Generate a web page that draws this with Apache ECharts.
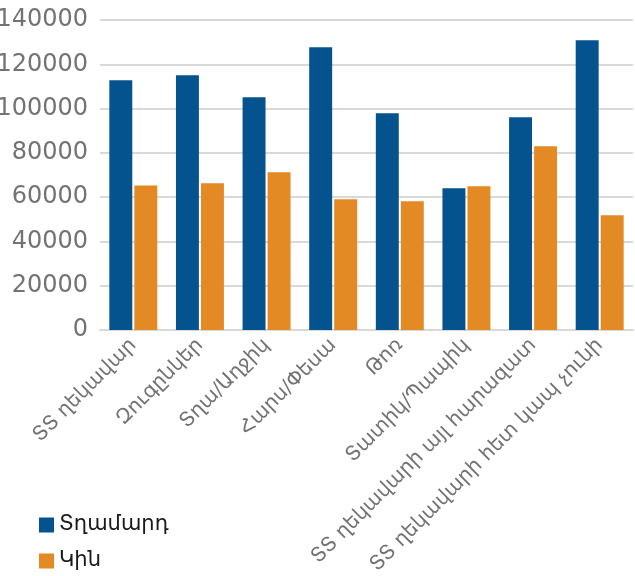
<!DOCTYPE html>
<html>
<head>
	<meta charset="utf-8">
	<title>Bar chart</title>
	<script src="https://cdn.jsdelivr.net/npm/echarts@6/dist/echarts.min.js"></script>
	<style>
		html, body { margin: 0; padding: 0; background: #fff; }
		#main { width: 635px; height: 576px; }
	</style>
</head>
<body>
<div id="main"></div>
<script>
	// categories and values
	var categories = ['ՏՏ ղեկավար', 'Զուգընկեր', 'Տղա/Աղջիկ', 'Հարս/Փեսա', 'Թոռ',
		'Տատիկ/Պապիկ', 'ՏՏ ղեկավարի այլ հարազատ', 'ՏՏ ղեկավարի հետ կապ չունի'];
	var seriesNames = ['Տղամարդ', 'Կին'];
	var men = [112800, 115000, 105100, 127700, 97900, 64000, 96100, 130800];
	var women = [65300, 66300, 71200, 59000, 58100, 64900, 83000, 51800];

	var font = '"DejaVu Sans", sans-serif';
	var colors = ['#04538f', '#e38a25'];
	var legendTops = [509, 545];

	// one legend per series so they stack exactly like the original
	var legends = seriesNames.map(function (name, i) {
		return {
			left: 34,
			top: legendTops[i],
			itemWidth: 15,
			itemHeight: 15,
			itemGap: 6,
			icon: 'rect',
			textStyle: { fontFamily: font, fontSize: 21, lineHeight: 22, color: '#1a1a1a' },
			data: [name]
		};
	});

	var chart = echarts.init(document.getElementById('main'));
	chart.setOption({
		animation: false,
		textStyle: { fontFamily: font },
		grid: { left: 100, right: 2, top: 20, bottom: 246, containLabel: false, outerBoundsMode: 'none' },
		legend: legends,
		xAxis: {
			type: 'category',
			data: categories,
			axisLine: { lineStyle: { color: '#d9d9d9', width: 2 } },
			axisTick: { show: false },
			axisLabel: {
				interval: 0,
				rotate: 45,
				margin: 12,
				fontFamily: font,
				fontSize: 20,
				color: '#737373'
			}
		},
		yAxis: {
			type: 'value',
			min: 0,
			max: 140000,
			interval: 20000,
			axisLine: { show: false },
			axisTick: { show: false },
			splitLine: { lineStyle: { color: '#d9d9d9', width: 2 } },
			axisLabel: {
				margin: 12,
				fontFamily: font,
				fontSize: 24,
				color: '#737373',
				formatter: function (v) { return String(v); }
			}
		},
		series: [
			{
				name: seriesNames[0],
				type: 'bar',
				data: men,
				itemStyle: { color: colors[0] },
				barGap: '9%',
				barCategoryGap: '28%'
			},
			{
				name: seriesNames[1],
				type: 'bar',
				data: women,
				itemStyle: { color: colors[1] },
				barGap: '9%',
				barCategoryGap: '28%'
			}
		]
	});
</script>
</body>
</html>
